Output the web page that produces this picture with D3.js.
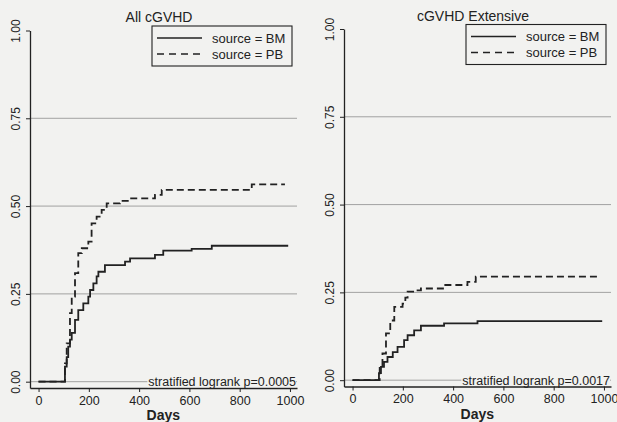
<!DOCTYPE html>
<html>
<head>
<meta charset="utf-8">
<script src="https://cdn.jsdelivr.net/npm/d3@7"></script>
<style>
  body { margin: 0; background: #f2f2f0; }
  text { font-family: "Liberation Sans", Arial, sans-serif; fill: #222; }
</style>
</head>
<body>
<script>
// panel titles and p-values
const titles = ["All cGVHD", "cGVHD Extensive"];
const pvalues = ["stratified logrank p=0.0005", "stratified logrank p=0.0017"];
const legendLabels = ["source = BM", "source = PB"];
const xTicks = [0, 200, 400, 600, 800, 1000];
const yTicks = [0, 0.25, 0.5, 0.75, 1];

// step curves [day, cumulative incidence after step]
const allBM = [[0,0],[99,0],[105,0.043],[112,0.07],[118,0.1],[125,0.12],[132,0.139],[145,0.176],[158,0.204],[178,0.223],[198,0.242],[205,0.261],[218,0.28],[231,0.30],[238,0.313],[264,0.332],[344,0.342],[364,0.351],[463,0.361],[496,0.373],[609,0.378],[689,0.387],[993,0.387]];
const allPB = [[0,0],[99,0],[105,0.052],[112,0.109],[125,0.195],[132,0.242],[145,0.309],[158,0.366],[172,0.38],[198,0.399],[211,0.451],[231,0.47],[251,0.489],[271,0.508],[324,0.515],[364,0.522],[463,0.532],[490,0.546],[848,0.562],[980,0.562]];
const extBM = [[0,0],[99,0],[105,0.02],[113,0.038],[125,0.052],[139,0.066],[160,0.08],[179,0.095],[205,0.114],[219,0.128],[245,0.142],[272,0.155],[364,0.162],[497,0.168],[993,0.168]];
const extPB = [[0,0],[99,0],[108,0.035],[119,0.076],[133,0.133],[150,0.17],[166,0.209],[199,0.218],[210,0.235],[219,0.252],[252,0.256],[272,0.261],[364,0.271],[457,0.28],[490,0.295],[972,0.295]];

const panels = [
  { bm: allBM, pb: allPB, dx: 0, dy: 0 },
  { bm: extBM, pb: extPB, dx: 314, dy: -1.5 }
];

const svg = d3.select("body").append("svg")
  .attr("width", 617).attr("height", 422);

const ink = "#222";

panels.forEach(function(p, i) {
  const g = svg.append("g").attr("transform", "translate(" + p.dx + "," + p.dy + ")");
  const x = d3.scaleLinear().domain([-34, 1028]).range([30, 297]);
  const y = d3.scaleLinear().domain([-0.018, 1]).range([388, 30.5]);

  // horizontal reference lines
  g.selectAll(".grid").data(yTicks.slice(0, 4)).enter().append("line")
    .attr("x1", 30).attr("x2", 297)
    .attr("y1", d => y(d)).attr("y2", d => y(d))
    .attr("stroke", "#808080").attr("stroke-width", 0.7);

  // axes
  const yAxis = g.append("g").attr("transform", "translate(30,0)")
    .call(d3.axisLeft(y).tickValues(yTicks).tickFormat(d3.format(".2f")).tickSize(4).tickSizeOuter(0));
  yAxis.select(".domain").attr("stroke", ink).attr("stroke-width", 1.3);
  yAxis.selectAll(".tick line").attr("stroke", ink);
  yAxis.selectAll(".tick text")
    .attr("transform", "rotate(-90)")
    .attr("x", 0).attr("y", -10).attr("dy", 0)
    .style("text-anchor", "middle")
    .style("font-size", "12px").style("fill", ink);

  const xAxis = g.append("g").attr("transform", "translate(0,388)")
    .call(d3.axisBottom(x).tickValues(xTicks).tickFormat(d3.format("d")).tickSize(4).tickSizeOuter(0));
  xAxis.select(".domain").attr("stroke", ink).attr("stroke-width", 1.3);
  xAxis.selectAll(".tick line").attr("stroke", ink);
  xAxis.selectAll(".tick text").attr("y", 8).style("font-size", "12.5px").style("fill", ink);

  g.append("text").attr("x", (x(0) + x(1000)) / 2 - 1).attr("y", 420)
    .attr("text-anchor", "middle").style("font-size", "14px").style("font-weight", "bold")
    .text("Days");

  g.append("text").attr("x", 159).attr("y", 22)
    .attr("text-anchor", "middle").style("font-size", "14px")
    .text(titles[i]);

  // p-value label sitting on the zero line
  const pt = g.append("text").attr("x", 296).attr("y", y(0) + 4.5)
    .attr("text-anchor", "end").style("font-size", "12.5px")
    .text(pvalues[i]);
  const bb = pt.node().getBBox();
  g.insert("rect", () => pt.node()).attr("x", bb.x - 1).attr("y", bb.y + 2)
    .attr("width", bb.width + 1).attr("height", bb.height - 4)
    .attr("fill", "#f2f2f0");

  const line = d3.line().x(d => x(d[0])).y(d => y(d[1])).curve(d3.curveStepAfter);
  g.append("path").datum(p.bm).attr("d", line)
    .attr("fill", "none").attr("stroke", ink).attr("stroke-width", 1.8);
  g.append("path").datum(p.pb).attr("d", line)
    .attr("fill", "none").attr("stroke", ink).attr("stroke-width", 1.8)
    .attr("stroke-dasharray", "7,4");

  // legend
  const lg = g.append("g").attr("transform", "translate(152,26)");
  lg.append("rect").attr("width", 140).attr("height", 40)
    .attr("fill", "none").attr("stroke", ink).attr("stroke-width", 1.1);
  legendLabels.forEach(function(lab, k) {
    lg.append("line").attr("x1", 5).attr("x2", 50)
      .attr("y1", 12 + k * 16).attr("y2", 12 + k * 16)
      .attr("stroke", ink).attr("stroke-width", 1.4)
      .attr("stroke-dasharray", k ? "7,5" : null);
    lg.append("text").attr("x", 60).attr("y", 16.5 + k * 16)
      .style("font-size", "13px").text(lab);
  });
});
</script>
</body>
</html>
